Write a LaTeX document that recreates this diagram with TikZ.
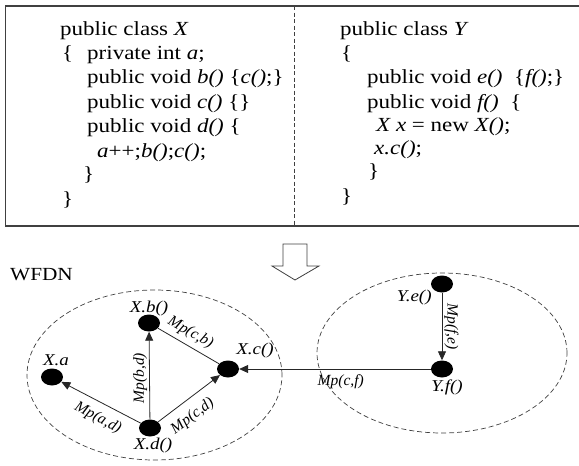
\documentclass[tikz,border=0pt]{standalone}
\usepackage{fontspec}
\setmainfont{Liberation Serif}
\usepackage{graphicx}
\usepackage{xcolor}
\usepackage{tikz}
\usetikzlibrary{arrows.meta,positioning,shapes.geometric}
\definecolor{framegray}{RGB}{64,64,64}
\newcommand{\codefont}{\fontsize{20}{24}\selectfont}
\newcommand{\fnfont}{\fontsize{16.5}{20}\selectfont\itshape}
\newcommand{\mpfont}{\fontsize{15.5}{18}\selectfont\itshape}
\newcommand{\stretched}[1]{\scalebox{1.15}[1]{#1}}
\tikzset{
    codeline/.style={
        anchor=base west,
        inner sep=0pt,
        font=\codefont
    },
    fnode/.style={
        ellipse,
        fill=black,
        inner sep=0pt,
        minimum width=22pt,
        minimum height=17pt
    },
    fnname/.style={
        inner sep=1pt,
        font=\fnfont
    },
    mplabel/.style={
        inner sep=2pt,
        font=\mpfont
    },
    group/.style={
        ellipse,
        draw=framegray,
        dash pattern=on 5pt off 3pt,
        line width=0.7pt,
        inner sep=0pt
    },
    callarrow/.style={
        -{Triangle[length=9pt,width=8pt]},
        line width=0.8pt,
        draw=black!85
    },
    plainline/.style={
        line width=0.8pt,
        draw=black!85
    }
}

\begin{document}
\begin{tikzpicture}[x=1pt, y=-1pt]
    \useasboundingbox (0,0) rectangle (579,466);

    % source code frame
    \draw[framegray, line width=1.2pt] (579,6) -- (5.5,6) -- (5.5,226) -- (579,226);
    \draw[framegray, line width=1pt, dash pattern=on 4pt off 2.5pt] (294,6) -- (294,226);

    % class X
    \node[codeline] (x1) at (60,35) {\stretched{public class \textit{X}}};
    \node[codeline] (x2a) at (62,59.4) {\stretched{\{}};
    \node[codeline] (x2b) at (87,59.4) {\stretched{private int \textit{a};}};
    \node[codeline] (x3) at (87,83.8) {\stretched{public void \textit{b()} \{\textit{c()};\}}};
    \node[codeline] (x4) at (87,108.2) {\stretched{public void \textit{c()} \{\}}};
    \node[codeline] (x5) at (87,132.6) {\stretched{public void \textit{d()} \{}};
    \node[codeline] (x6) at (97,157) {\stretched{\textit{a}++;\textit{b()};\textit{c()};}};
    \node[codeline] (x7) at (83,180.5) {\stretched{\}}};
    \node[codeline] (x8) at (62,205) {\stretched{\}}};

    % class Y
    \node[codeline] (y1) at (340,35) {\stretched{public class \textit{Y}}};
    \node[codeline] (y2) at (341,59.4) {\stretched{\{}};
    \node[codeline] (y3) at (367,83.5) {\stretched{public void \textit{e()}~ \{\textit{f()};\}}};
    \node[codeline] (y4) at (367,108) {\stretched{public void \textit{f()}~ \{}};
    \node[codeline] (y5) at (376,131.5) {\stretched{\textit{X x} = new \textit{X()};}};
    \node[codeline] (y6) at (374,154.5) {\stretched{\textit{x.c()};}};
    \node[codeline] (y7) at (368,177.5) {\stretched{\}}};
    \node[codeline] (y8) at (341,202) {\stretched{\}}};

    % hollow arrow
    \draw[framegray, line width=0.8pt, fill=white]
        (283,244) -- (307,244) -- (307,266) -- (319,266)
        -- (295,280) -- (272,266) -- (283,266) -- cycle;

    \node[font=\fontsize{18.5}{22}\selectfont, anchor=west, inner sep=0pt] (wfdn) at (10,275) {\stretched{WFDN}};

    % groups
    \node[group, minimum width=255pt, minimum height=170pt] (wfx) at (154.5,375) {};
    \node[group, minimum width=250pt, minimum height=160pt] (wfy) at (442,353) {};

    % function nodes
    \node[fnode] (xb) at (149,323) {};
    \node[fnode] (xa) at (52,377) {};
    \node[fnode] (xc) at (228,369) {};
    \node[fnode] (xd) at (150,428) {};
    \node[fnode] (ye) at (442,284) {};
    \node[fnode] (yf) at (442,369) {};

    \node[fnname, above=-3pt of xb] (xbname) {\stretched{X.b()}};
    \node[fnname, above=1pt of xa, xshift=4pt] (xaname) {\stretched{X.a}};
    \node[fnname, right=-4pt of xc, yshift=18pt] (xcname) {\stretched{X.c()}};
    \node[fnname, below=0pt of xd, xshift=3pt] (xdname) {\stretched{X.d()}};
    \node[fnname, left=-2pt of ye, yshift=-14pt] (yename) {\stretched{Y.e()}};
    \node[fnname, below=1pt of yf, xshift=5pt] (yfname) {\stretched{Y.f()}};

    % calls
    \draw[callarrow] (xd) -- node[mplabel, sloped, below=6pt, pos=0.45] (mpad) {Mp(a,d)} (xa);
    \draw[callarrow] (xd) -- node[mplabel, rotate=90, anchor=south, pos=0.47] (mpbd) {Mp(b,d)} (xb);
    \draw[callarrow] (xd) -- node[mplabel, sloped, below=7pt, pos=0.4] (mpcd) {Mp(c,d)} (xc);
    \draw[plainline] (xb) -- node[mplabel, sloped, above=3pt, pos=0.43] (mpcb) {Mp(c,b)} (xc);
    \draw[callarrow] (yf) -- node[mplabel, below=3pt, pos=0.47] (mpcf) {Mp(c,f)} (xc);
    \draw[callarrow] (ye) -- node[mplabel, rotate=-90, anchor=south] (mpfe) {Mp(f,e)} (yf);
\end{tikzpicture}
\end{document}
